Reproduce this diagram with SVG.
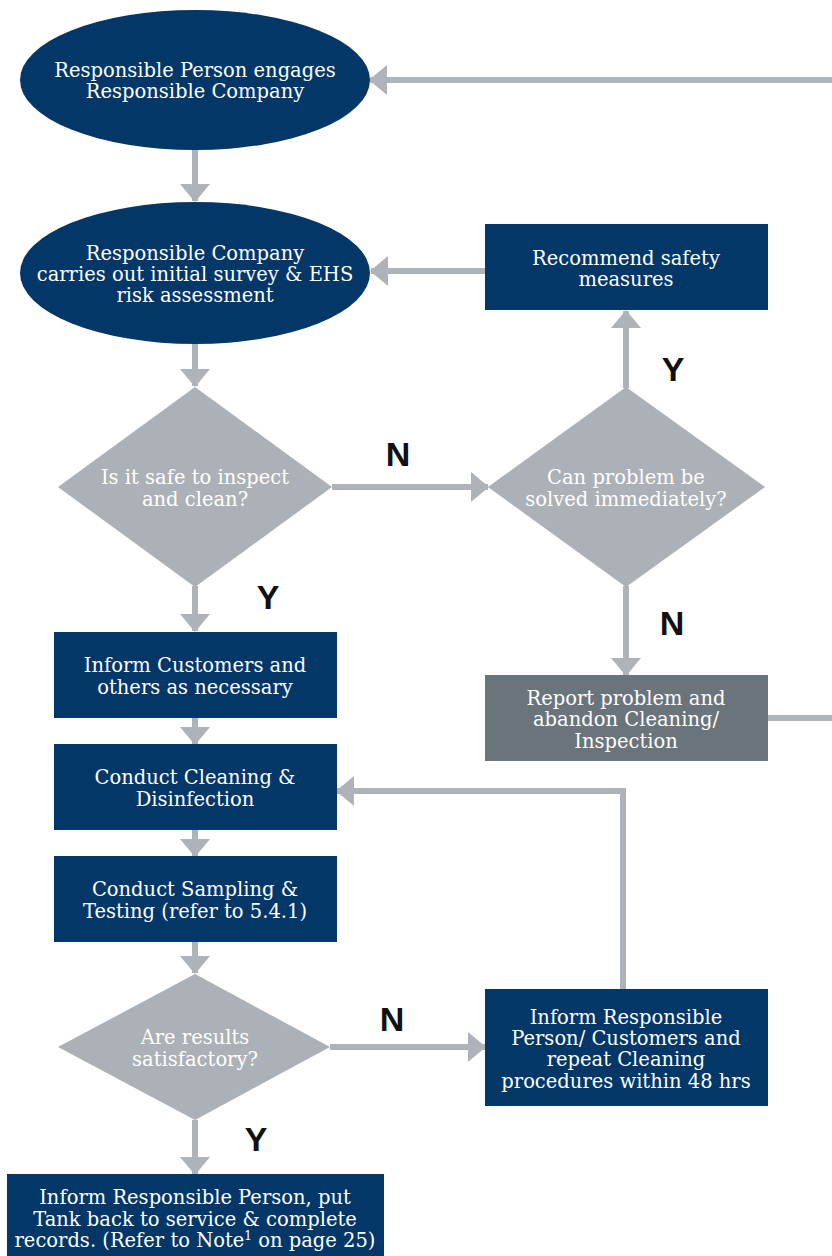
<svg xmlns="http://www.w3.org/2000/svg" width="832" height="1256" viewBox="0 0 832 1256">
<style>
.navy{fill:#033767}
.dia{fill:#abb1b6}
.grey{fill:#6a747b}
.t{font-family:"DejaVu Serif","Liberation Serif",serif;font-size:19.5px;fill:#ffffff;text-anchor:middle}
.lbl{font-family:"Liberation Sans",Arial,sans-serif;font-size:34px;font-weight:bold;fill:#111111;text-anchor:middle}
.c{stroke:#adb3b8;stroke-width:6;fill:none}
</style>
<defs>
<marker id="ah" markerUnits="userSpaceOnUse" viewBox="0 0 18 30" markerWidth="18" markerHeight="30" refX="17" refY="15" orient="auto">
<path d="M0,0 L18,15 L0,30 z" fill="#adb3b8"/>
</marker>
</defs>
<rect width="832" height="1256" fill="#ffffff"/>
<g id="connectors">
<line class="c" x1="195" y1="150" x2="195" y2="201" marker-end="url(#ah)"/>
<line class="c" x1="195" y1="344" x2="195" y2="386" marker-end="url(#ah)"/>
<line class="c" x1="332" y1="487" x2="488" y2="487" marker-end="url(#ah)"/>
<line class="c" x1="626" y1="388" x2="626" y2="311" marker-end="url(#ah)"/>
<line class="c" x1="486" y1="271" x2="371" y2="271" marker-end="url(#ah)"/>
<line class="c" x1="626" y1="586" x2="626" y2="675" marker-end="url(#ah)"/>
<polyline class="c" points="767,718 832,718"/>
<line class="c" x1="832" y1="80" x2="370" y2="80" marker-end="url(#ah)"/>
<line class="c" x1="195" y1="586" x2="195" y2="631" marker-end="url(#ah)"/>
<line class="c" x1="195" y1="718" x2="195" y2="744" marker-end="url(#ah)"/>
<line class="c" x1="195" y1="830" x2="195" y2="856" marker-end="url(#ah)"/>
<line class="c" x1="195" y1="942" x2="195" y2="973" marker-end="url(#ah)"/>
<line class="c" x1="330" y1="1047" x2="485" y2="1047" marker-end="url(#ah)"/>
<polyline class="c" points="623,989 623,791 337,791" marker-end="url(#ah)"/>
<line class="c" x1="195" y1="1120" x2="195" y2="1174" marker-end="url(#ah)"/>
</g>
<g id="labels">
<text class="lbl" x="398" y="466">N</text>
<text class="lbl" x="673" y="381">Y</text>
<text class="lbl" x="672" y="635">N</text>
<text class="lbl" x="268" y="609">Y</text>
<text class="lbl" x="392" y="1031">N</text>
<text class="lbl" x="256" y="1151">Y</text>
</g>
<g id="n1"><ellipse class="navy" cx="195" cy="80" rx="175" ry="70"/>
<text class="t" x="195" y="77">Responsible Person engages</text>
<text class="t" x="195" y="98">Responsible Company</text></g>
<g id="n2"><ellipse class="navy" cx="195" cy="273" rx="175" ry="71"/>
<text class="t" x="195" y="260">Responsible Company</text>
<text class="t" x="195" y="281">carries out initial survey &amp; EHS</text>
<text class="t" x="195" y="302">risk assessment</text></g>
<g id="n3"><polygon class="dia" points="195,387 332,487 195,587 58,487"/>
<text class="t" x="195" y="484">Is it safe to inspect</text>
<text class="t" x="195" y="506">and clean?</text></g>
<g id="n4"><polygon class="dia" points="626,387 765,487 626,587 488,487"/>
<text class="t" x="626" y="484">Can problem be</text>
<text class="t" x="626" y="506">solved immediately?</text></g>
<g id="n5"><rect class="navy" x="485" y="224" width="283" height="86"/>
<text class="t" x="626" y="265">Recommend safety</text>
<text class="t" x="626" y="286">measures</text></g>
<g id="n6"><rect class="grey" x="485" y="675" width="283" height="86"/>
<text class="t" x="626" y="705">Report problem and</text>
<text class="t" x="626" y="726">abandon Cleaning/</text>
<text class="t" x="626" y="748">Inspection</text></g>
<g id="n7"><rect class="navy" x="54" y="632" width="283" height="86"/>
<text class="t" x="195" y="672">Inform Customers and</text>
<text class="t" x="195" y="694">others as necessary</text></g>
<g id="n8"><rect class="navy" x="54" y="744" width="283" height="86"/>
<text class="t" x="195" y="784">Conduct Cleaning &amp;</text>
<text class="t" x="195" y="806">Disinfection</text></g>
<g id="n9"><rect class="navy" x="54" y="856" width="283" height="86"/>
<text class="t" x="195" y="896">Conduct Sampling &amp;</text>
<text class="t" x="195" y="918">Testing (refer to 5.4.1)</text></g>
<g id="n10"><polygon class="dia" points="195,974 330,1047 195,1120 58,1047"/>
<text class="t" x="195" y="1044">Are results</text>
<text class="t" x="195" y="1066">satisfactory?</text></g>
<g id="n11"><rect class="navy" x="485" y="989" width="283" height="117"/>
<text class="t" x="626" y="1024">Inform Responsible</text>
<text class="t" x="626" y="1045">Person/ Customers and</text>
<text class="t" x="626" y="1066">repeat Cleaning</text>
<text class="t" x="626" y="1088">procedures within 48 hrs</text></g>
<g id="n12"><rect class="navy" x="7" y="1174" width="377" height="82"/>
<text class="t" x="195" y="1204">Inform Responsible Person, put</text>
<text class="t" x="195" y="1226">Tank back to service &amp; complete</text>
<text class="t" x="195" y="1247">records. (Refer to Note<tspan dy="-7" font-size="12">1</tspan><tspan dy="7"> on page 25)</tspan></text></g>
</svg>
